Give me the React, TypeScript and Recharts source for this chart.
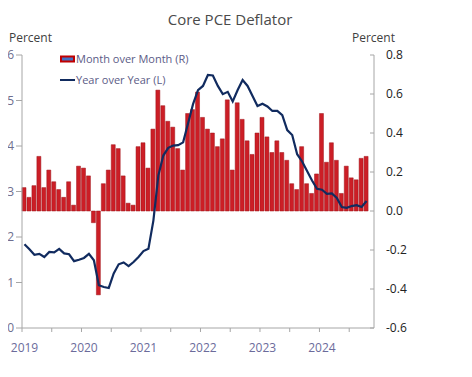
import React from "react";
import { ComposedChart, Bar, Line, XAxis, YAxis } from "recharts";

// Monthly data, Jan 2019 - Oct 2024
const momValues = [
  0.12, 0.07, 0.13, 0.28, 0.12, 0.21, 0.15, 0.11, 0.07, 0.15, 0.03, 0.23,
  0.22, 0.18, -0.06, -0.43, 0.14, 0.21, 0.34, 0.32, 0.18, 0.04, 0.03, 0.33,
  0.35, 0.22, 0.42, 0.62, 0.54, 0.46, 0.43, 0.32, 0.21, 0.5, 0.52, 0.61,
  0.48, 0.42, 0.4, 0.33, 0.37, 0.57, 0.21, 0.555, 0.47, 0.36, 0.29, 0.4,
  0.48, 0.38, 0.3, 0.36, 0.3, 0.26, 0.14, 0.11, 0.33, 0.14, 0.09, 0.19,
  0.5, 0.25, 0.35, 0.26, 0.09, 0.23, 0.17, 0.16, 0.27, 0.28,
];

const yoyValues = [
  1.84, 1.73, 1.61, 1.63, 1.56, 1.67, 1.66, 1.74, 1.64, 1.62, 1.47, 1.5,
  1.54, 1.63, 1.49, 0.94, 0.9, 0.88, 1.2, 1.4, 1.44, 1.36, 1.45, 1.56,
  1.69, 1.74, 2.36, 3.35, 3.79, 3.96, 4.01, 4.02, 4.08, 4.5, 4.92, 5.23,
  5.32, 5.56, 5.55, 5.32, 5.14, 5.19, 4.98, 5.23, 5.45, 5.32, 5.1, 4.88,
  4.93, 4.87, 4.77, 4.77, 4.68, 4.35, 4.24, 3.82, 3.66, 3.45, 3.24, 3.06,
  3.04, 2.95, 2.96, 2.86, 2.66, 2.64, 2.68, 2.7, 2.66, 2.79,
];

const yearLabels = ["2019", "2020", "2021", "2022", "2023", "2024"];
const monthTicks = [0, 6, 12, 18, 24, 30, 36, 42, 48, 54, 60, 66];
const leftTicks = [0, 1, 2, 3, 4, 5, 6];
const rightTicks = [-0.6, -0.4, -0.2, 0, 0.2, 0.4, 0.6, 0.8];

const data = momValues.map((m, i) => ({ t: i + 0.5, mom: m, yoy: yoyValues[i] }));

const FONT = "'Open Sans', 'Noto Sans', sans-serif";
const AXIS = "#A6A6A6";
const NAVY = "#112B5F";
const RED = "#CC1E26";

function XTick(props: any) {
  const { x, y, payload } = props;
  const v = payload.value;
  if (v % 12 !== 0) return <g />;
  return (
    <text x={x + 2.5} y={y} dy="0.71em" textAnchor="middle" fill="#6B6B9B" fontSize={12} fontFamily={FONT}>
      {yearLabels[v / 12]}
    </text>
  );
}

function RightTick(props: any) {
  const { x, y, payload } = props;
  return (
    <text x={x} y={y} dy="0.355em" textAnchor="start" fill="#222" fontSize={12} fontFamily={FONT}>
      {Number(payload.value).toFixed(1)}
    </text>
  );
}

export default function App() {
  return (
    <div style={{ position: "relative", width: 472, height: 377, margin: -8, background: "#fff" }}>
      <ComposedChart width={472} height={377} data={data} margin={{ top: 55, right: 0, bottom: 0, left: 0 }}>
        <XAxis
          type="number"
          dataKey="t"
          domain={[0, 71]}
          ticks={monthTicks}
          interval={0}
          height={49}
          stroke={AXIS}
          tickSize={4}
          tickMargin={11}
          tick={<XTick />}
        />
        <YAxis
          yAxisId="right"
          orientation="right"
          width={98}
          domain={[-0.6, 0.8]}
          ticks={rightTicks}
          interval={0}
          stroke={AXIS}
          tickSize={-4}
          tickMargin={16}
          tick={<RightTick />}
        />
        <YAxis
          yAxisId="left"
          orientation="left"
          type="number"
          width={22}
          domain={[0, 6]}
          ticks={leftTicks}
          interval={0}
          stroke={AXIS}
          tick={{ fill: "#6E6E8E", fontSize: 12, fontFamily: FONT }}
        />
        <Bar
          yAxisId="right"
          dataKey="mom"
          barSize={4}
          fill={RED}
          stroke="#9E141A"
          strokeWidth={0.5}
          isAnimationActive={false}
        />
        <Line
          yAxisId="left"
          dataKey="yoy"
          type="linear"
          stroke={NAVY}
          strokeWidth={2.2}
          dot={false}
          activeDot={false}
          isAnimationActive={false}
        />
      </ComposedChart>
      <svg
        width={472}
        height={377}
        style={{ position: "absolute", left: 0, top: 0, pointerEvents: "none" }}
      >
        <text x={230} y={25} textAnchor="middle" fill="#4A4A4A" fontSize={15} fontFamily={FONT}>
          Core PCE Deflator
        </text>
        <text x={9} y={42} fill="#404040" fontSize={12} fontFamily={FONT}>
          Percent
        </text>
        <text x={352} y={42} fill="#404040" fontSize={12} fontFamily={FONT}>
          Percent
        </text>
        <rect x={61} y={56.5} width={13} height={5} fill="#4472C4" stroke="#C00000" strokeWidth={2} />
        <text x={76} y={63} fill="#5B5B86" fontSize={11} fontFamily={FONT}>
          Month over Month (R)
        </text>
        <line x1={60} x2={75} y1={80} y2={80} stroke={NAVY} strokeWidth={2} />
        <text x={76} y={83.5} fill="#5B5B86" fontSize={11} fontFamily={FONT}>
          Year over Year (L)
        </text>
      </svg>
    </div>
  );
}
